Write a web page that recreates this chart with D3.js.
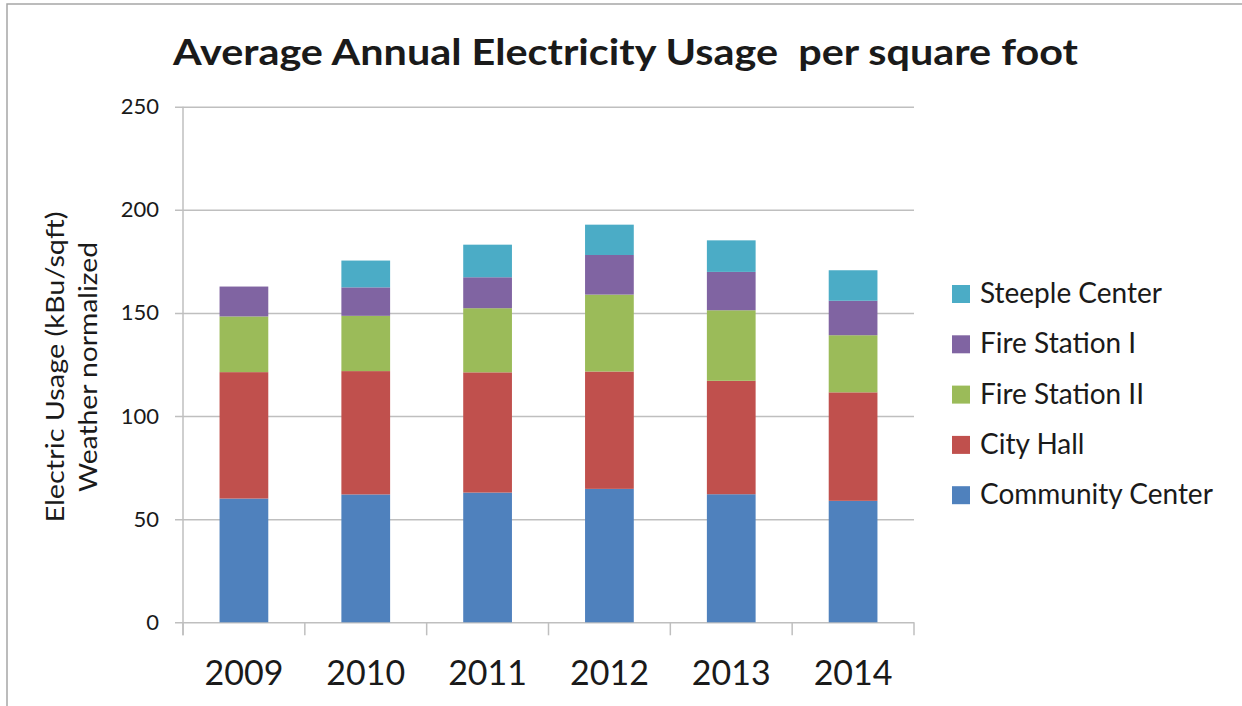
<!DOCTYPE html>
<html>
<head>
<meta charset="utf-8">
<script src="https://cdn.jsdelivr.net/npm/d3@7"></script>
<style>
  body { margin: 0; background: #fff; }
  text { font-family: Lato, "Open Sans", sans-serif; fill: #1a1a1a; }
</style>
</head>
<body>
<div id="chart"></div>
<script>
// values
var years = ["2009", "2010", "2011", "2012", "2013", "2014"];
var communityCenter = [60.0, 62.0, 62.9, 64.7, 62.1, 58.9];
var cityHall = [61.3, 59.8, 58.3, 56.9, 55.0, 52.6];
var fireStationII = [27.0, 26.8, 31.1, 37.3, 34.2, 27.7];
var fireStationI = [14.5, 13.8, 15.0, 19.2, 18.6, 16.7];
var steepleCenter = [0, 13.0, 15.8, 14.7, 15.3, 14.8];
var seriesNames = ["Community Center", "City Hall", "Fire Station II", "Fire Station I", "Steeple Center"];
var yTicks = [0, 50, 100, 150, 200, 250];

var colors = ["#4f81bd", "#c0504d", "#9bbb59", "#8064a2", "#4bacc6"];

var svgWidth = 1242;
var svgHeight = 706;

var plot = { left: 183, right: 914, top: 106.7, bottom: 622.3 };

var svg = d3.select("#chart")
    .append("svg")
    .attr("width", svgWidth)
    .attr("height", svgHeight);

// outer frame (only top and left edges show in the picture)
svg.append("rect")
    .attr("x", 7)
    .attr("y", 4)
    .attr("width", svgWidth + 20)
    .attr("height", svgHeight + 20)
    .attr("fill", "none")
    .attr("stroke", "#a6a6a6")
    .attr("stroke-width", 1.5);

var table = years.map(function(y, i) {
    return {
        year: y,
        "Community Center": communityCenter[i],
        "City Hall": cityHall[i],
        "Fire Station II": fireStationII[i],
        "Fire Station I": fireStationI[i],
        "Steeple Center": steepleCenter[i]
    };
});

var stacked = d3.stack().keys(seriesNames)(table);

var x = d3.scaleBand()
    .domain(years)
    .range([plot.left, plot.right])
    .paddingInner(0.6)
    .paddingOuter(0.3);

var y = d3.scaleLinear()
    .domain([0, 250])
    .range([plot.bottom, plot.top]);

// gridlines + y labels
var yAxis = d3.axisLeft(y)
    .tickValues(yTicks)
    .tickSize(-(plot.right - plot.left + 8))
    .tickPadding(16);

var yG = svg.append("g")
    .attr("transform", "translate(" + (plot.left - 8) + ",0)")
    .call(yAxis);
yG.select(".domain").remove();
yG.selectAll(".tick line")
    .attr("stroke", "#bfbfbf")
    .attr("stroke-width", 1.5);
yG.selectAll(".tick text")
    .attr("font-size", 22)
    .attr("fill", "#1a1a1a")
    .style("font-family", "Lato, sans-serif");

// y axis line, runs down to the first category tick
svg.append("line")
    .attr("x1", plot.left).attr("x2", plot.left)
    .attr("y1", plot.top).attr("y2", plot.bottom + 13)
    .attr("stroke", "#bfbfbf")
    .attr("stroke-width", 1.5);

// category ticks between bars
var xEdges = years.map(function(d) { return x(d) - x.step() * x.paddingInner() / 2; });
xEdges.push(plot.right);
svg.append("g").selectAll("line")
    .data(xEdges)
    .enter()
    .append("line")
    .attr("x1", d => d).attr("x2", d => d)
    .attr("y1", plot.bottom).attr("y2", plot.bottom + 13)
    .attr("stroke", "#bfbfbf")
    .attr("stroke-width", 1.5);

// bars
var layers = svg.append("g").selectAll("g")
    .data(stacked)
    .enter()
    .append("g")
    .attr("fill", (d, i) => colors[i]);

layers.selectAll("rect")
    .data(d => d.filter(s => s[1] - s[0] > 0))
    .enter()
    .append("rect")
    .attr("x", d => x(d.data.year))
    .attr("y", d => y(d[1]))
    .attr("width", x.bandwidth())
    .attr("height", d => y(d[0]) - y(d[1]));

// x labels
svg.append("g").selectAll("text")
    .data(years)
    .enter()
    .append("text")
    .attr("x", d => x(d) + x.bandwidth() / 2)
    .attr("y", 685)
    .attr("text-anchor", "middle")
    .attr("font-size", 34)
    .text(d => d);

// title (the original is a wide bold face, stretched to its width)
svg.append("text")
    .attr("x", 173)
    .attr("y", 65)
    .attr("font-size", 36)
    .attr("font-weight", "bold")
    .attr("fill", "#000")
    .attr("textLength", 905)
    .attr("lengthAdjust", "spacingAndGlyphs")
    .style("white-space", "pre")
    .text("Average Annual Electricity Usage  per square foot");

// y title
var yTitle = svg.append("text")
    .attr("transform", "translate(0,367) rotate(-90)")
    .attr("text-anchor", "middle")
    .attr("font-size", 25);
yTitle.append("tspan").attr("x", 0).attr("y", 64)
    .attr("textLength", 311).attr("lengthAdjust", "spacingAndGlyphs")
    .text("Electric Usage (kBu/sqft)");
yTitle.append("tspan").attr("x", 0).attr("y", 97)
    .attr("textLength", 250).attr("lengthAdjust", "spacingAndGlyphs")
    .text("Weather normalized");

// legend, top entry is the last series
var legendOrder = seriesNames.slice().reverse();
var legend = svg.append("g").selectAll("g")
    .data(legendOrder)
    .enter()
    .append("g")
    .attr("transform", (d, i) => "translate(952," + (294 + i * 50.3) + ")");

legend.append("rect")
    .attr("x", 0)
    .attr("y", -9)
    .attr("width", 18)
    .attr("height", 18)
    .attr("fill", d => colors[seriesNames.indexOf(d)]);

legend.append("text")
    .attr("x", 28)
    .attr("y", 9)
    .attr("font-size", 28)
    .text(d => d);
</script>
</body>
</html>
